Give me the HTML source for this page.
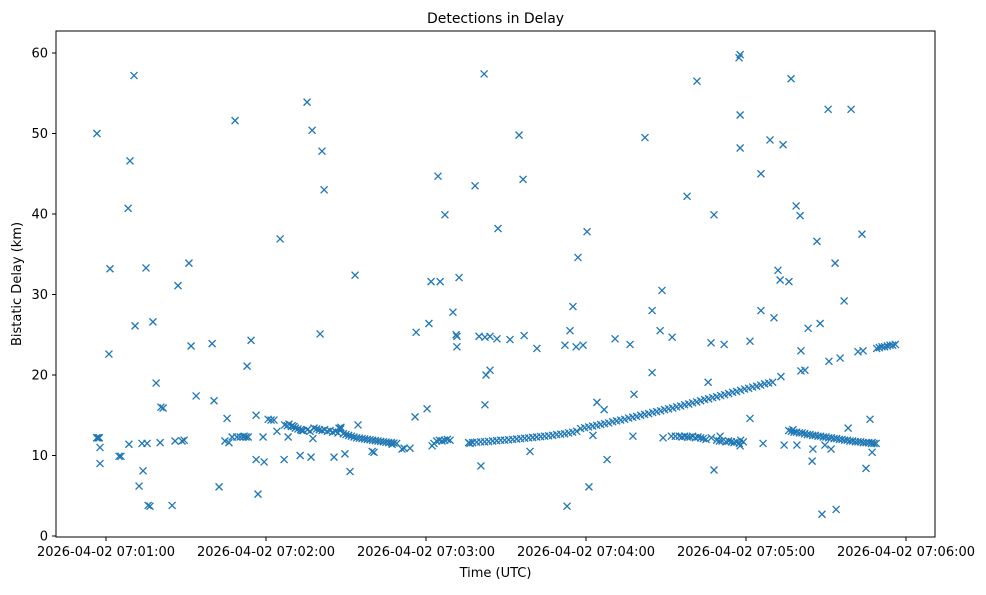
<!DOCTYPE html>
<html><head><meta charset="utf-8"><style>
body{margin:0;background:#fff;}
svg text{font-family:"DejaVu Sans","Liberation Sans",sans-serif;fill:#000;}
</style></head><body>
<svg id="chart" width="986" height="590" xmlns="http://www.w3.org/2000/svg">
<rect width="986" height="590" fill="#fff"/>
<text x="495.5" y="23" font-size="14" text-anchor="middle">Detections in Delay</text>
<g id="marks"></g>
<rect x="56" y="31" width="879" height="506" fill="none" stroke="#000" stroke-width="1"/>
<g id="xticks"></g>
<g id="yticks"></g>
<text x="495.5" y="577" font-size="13" text-anchor="middle">Time (UTC)</text>
<text transform="translate(21,284) rotate(-90)" font-size="13" text-anchor="middle">Bistatic Delay (km)</text>
</svg>
<script>
// seconds after 07:00:00 UTC
const xTickSeconds = [60,120,180,240,300,360];
const xTickLabels = ["2026-04-02 07:01:00","2026-04-02 07:02:00","2026-04-02 07:03:00","2026-04-02 07:04:00","2026-04-02 07:05:00","2026-04-02 07:06:00"];
const yTickValues = [0,10,20,30,40,50,60];

const outlierTimes = [56.6,57.4,57.75,57.75,61.1,61.5,64.9,65.6,68.3,68.6,69,70.5,70.9,72.4,73.5,73.9,75,75.4,75.8,76.5,77.6,78.8,80.3,80.6,81.4,84.8,85.9,87,88.5,89.3,91.1,91.9,93.8,99.8,100.5,102.4,104.6,105.4,106.1,107.3,108.4,112.9,114.4,116.3,116.3,117,118.9,119.3,120.8,121.9,123,124.1,125.3,126.8,128.3,128.6,129.8,130.5,132.8,133.5,135.4,136.9,137.3,137.6,140.3,141,141.8,145.5,147.4,148.1,149.6,151.5,153.4,154.5,159.8,160.5,167.3,171,171.8,174,175.9,176.3,180.4,181.1,181.9,182.3,183,184.5,185.3,187.1,190.1,191.3,191.6,191.6,192.4,196.5,198.4,199.9,200.6,201.8,202.1,202.1,202.5,204,204,206.6,207,211.5,214.9,216.4,216.8,219,221.6,232.1,232.9,234,235.1,236.3,237,238.9,240.4,241.1,242.6,244.1,246.8,247.9,250.9,256.5,257.6,258,262.1,264.8,264.8,267.8,268.5,268.9,272.3,277.9,281.6,285.8,286.9,288,288,290.3,291.8,297.4,297.8,297.8,297.8,297.8,301.5,301.5,305.6,305.6,306.4,309,310.5,312,312.8,313.1,313.9,314.3,316.1,316.9,317.6,318.8,319.1,320.3,320.6,320.6,322.1,323.3,324.8,325.1,326.6,327.8,328.5,329.6,330.8,331.1,331.9,333.4,333.8,335.3,336.8,338.3,339.4,342,343.5,343.9,345,346.5,347.3,347.3,348.8];
const outlierDelays = [50.0,12.2,11.0,9.0,22.6,33.2,9.9,9.9,40.7,11.4,46.6,57.2,26.1,6.2,11.5,8.1,33.3,11.5,3.8,3.7,26.6,19.0,11.6,16.0,15.9,3.8,11.8,31.1,11.8,11.9,33.9,23.6,17.4,23.9,16.8,6.1,11.8,14.6,11.6,12.3,51.6,21.1,24.3,9.5,15.0,5.2,12.3,9.2,14.5,14.4,14.4,13.0,36.9,9.5,12.3,13.9,13.7,13.6,10.0,13.1,53.9,9.8,50.4,12.1,25.1,47.8,43.0,9.8,13.4,13.5,10.2,8.0,32.4,13.8,10.5,10.4,11.4,10.8,10.9,10.9,14.8,25.3,15.8,26.4,31.6,11.2,11.5,44.7,31.6,39.9,27.8,25.0,24.8,23.5,32.1,11.5,43.5,24.8,8.7,57.4,16.3,24.7,20.0,20.6,24.8,24.5,38.2,24.4,49.8,44.3,24.9,10.5,23.3,23.7,3.7,25.5,28.5,23.5,34.6,23.7,37.8,6.1,12.5,16.6,15.7,9.5,24.5,23.8,12.4,17.6,49.5,20.3,28.0,25.5,30.5,12.2,24.7,42.2,56.5,19.1,24.0,8.2,39.9,12.4,23.8,59.4,59.8,48.2,52.3,11.2,24.2,14.6,45.0,28.0,11.5,49.2,27.1,33.0,31.8,19.8,48.6,11.3,31.6,56.8,13.2,41.0,11.3,39.8,20.5,23.0,20.6,25.8,9.3,10.8,36.6,26.4,2.7,11.3,53.0,21.7,10.8,33.9,3.3,22.1,29.2,13.4,53.0,22.9,37.5,23.0,8.4,14.5,10.4,11.6,11.5];

const trackTimes = [56.5,57,57.5,109.1,110.3,111.4,111.8,112.5,113.3,127,128,129.5,131,132,133,134,135.5,136.5,138,139,140,141,142,143,144,145,146,147,148,149,150,151,152,153,154,155,156,157,158,159,160,161,162,163,164,165,166,167,168,169,184,185,186,187,188,189,
196,197.5,199,200.5,202,203.5,205,206.5,208,209.5,211,212.5,214,215.5,217,218.5,220,221.5,223,224.5,226,227.5,229,230.5,232,233.5,235,236.5,238,239.5,241,242.5,244,245.5,247,248.5,250,251.5,253,254.5,256,257.5,259,260.5,262,263.5,265,266.5,268,269.5,271,272.5,274,275.5,277,278.5,280,281.5,283,284.5,286,287.5,289,290.5,292,293.5,295,296.5,298,299.5,301,302.5,304,305.5,307,308.5,310,
272,273.5,275,276,277,278,279,280,281,282,283,284,285,287,289,290,291,292.5,293.5,294.5,295.5,296.5,297.5,298,299,
316,317,318,319,320,321,322,323,324,325,326,327,328,329,330,331,332,333,334,335,336,337,338,339,340,341,342,343,344,345,346,347,348,
349,350,351,352,353,354,355,356];
const trackDelays = [12.2,12.2,12.2,12.3,12.3,12.3,12.4,12.3,12.3,13.8,13.7,13.6,13.4,13.3,13.2,13.1,13.2,13.0,13.4,13.3,13.2,13.1,13.2,13.0,13.1,12.9,13.0,12.8,13.3,12.7,12.6,12.5,12.4,12.3,12.2,12.15,12.1,12.05,12.0,11.95,11.9,11.85,11.8,11.75,11.7,11.65,11.6,11.6,11.55,11.5,11.8,11.9,11.8,11.9,12.0,11.9,
11.6,11.6,11.65,11.7,11.7,11.75,11.8,11.85,11.9,11.9,11.95,12.0,12.05,12.1,12.15,12.2,12.25,12.3,12.35,12.4,12.45,12.5,12.6,12.65,12.7,12.8,12.9,13.0,13.35,13.45,13.55,13.65,13.75,13.85,13.95,14.05,14.2,14.3,14.4,14.5,14.65,14.75,14.85,15.0,15.1,15.2,15.35,15.45,15.55,15.7,15.8,15.9,16.05,16.15,16.3,16.4,16.55,16.65,16.8,16.95,17.05,17.2,17.3,17.45,17.55,17.7,17.85,17.95,18.1,18.25,18.35,18.5,18.6,18.75,18.9,19.0,19.1,
12.4,12.4,12.4,12.3,12.4,12.3,12.3,12.4,12.2,12.3,12.2,12.1,12.0,12.2,11.9,11.8,11.8,11.7,11.8,11.7,11.6,11.7,11.5,11.9,11.7,
13.1,13.0,12.9,12.9,12.8,12.8,12.7,12.6,12.6,12.5,12.5,12.4,12.4,12.3,12.3,12.2,12.2,12.1,12.1,12.0,12.0,11.9,11.9,11.8,11.8,11.7,11.7,11.7,11.6,11.6,11.6,11.5,11.5,
23.3,23.4,23.5,23.5,23.6,23.7,23.7,23.8];

const NS="http://www.w3.org/2000/svg";
function xScale(t){return 106 + (t-60)*160/60;}
function yScale(v){return 536 - v*8.05;}

const marks=document.getElementById('marks');
function drawX(t,v){
  const x=xScale(t), y=yScale(v), r=3.5;
  const p=document.createElementNS(NS,'path');
  p.setAttribute('d',`M${x-r},${y-r}L${x+r},${y+r}M${x-r},${y+r}L${x+r},${y-r}`);
  p.setAttribute('stroke','#1f77b4');
  p.setAttribute('stroke-width','1.3');
  p.setAttribute('fill','none');
  
  
  marks.appendChild(p);
}
outlierTimes.forEach((t,i)=>drawX(t,outlierDelays[i]));
trackTimes.forEach((t,i)=>drawX(t,trackDelays[i]));

const xt=document.getElementById('xticks');
xTickSeconds.forEach((s,i)=>{
  const x=xScale(s);
  const l=document.createElementNS(NS,'line');
  l.setAttribute('x1',x);l.setAttribute('x2',x);l.setAttribute('y1',537);l.setAttribute('y2',541);
  l.setAttribute('stroke','#000');
  
  
  xt.appendChild(l);
  const tx=document.createElementNS(NS,'text');
  tx.setAttribute('x',x);tx.setAttribute('y',556);tx.setAttribute('font-size','13');tx.setAttribute('text-anchor','middle');
  tx.textContent=xTickLabels[i];
  
  
  xt.appendChild(tx);
});
const yt=document.getElementById('yticks');
yTickValues.forEach(v=>{
  const y=yScale(v);
  const l=document.createElementNS(NS,'line');
  l.setAttribute('x1',52);l.setAttribute('x2',56);l.setAttribute('y1',y);l.setAttribute('y2',y);
  l.setAttribute('stroke','#000');
  
  
  yt.appendChild(l);
  const tx=document.createElementNS(NS,'text');
  tx.setAttribute('x',48);tx.setAttribute('y',y+4.5);tx.setAttribute('font-size','13');tx.setAttribute('text-anchor','end');
  tx.textContent=String(v);
  
  
  yt.appendChild(tx);
});
</script>
</body></html>
